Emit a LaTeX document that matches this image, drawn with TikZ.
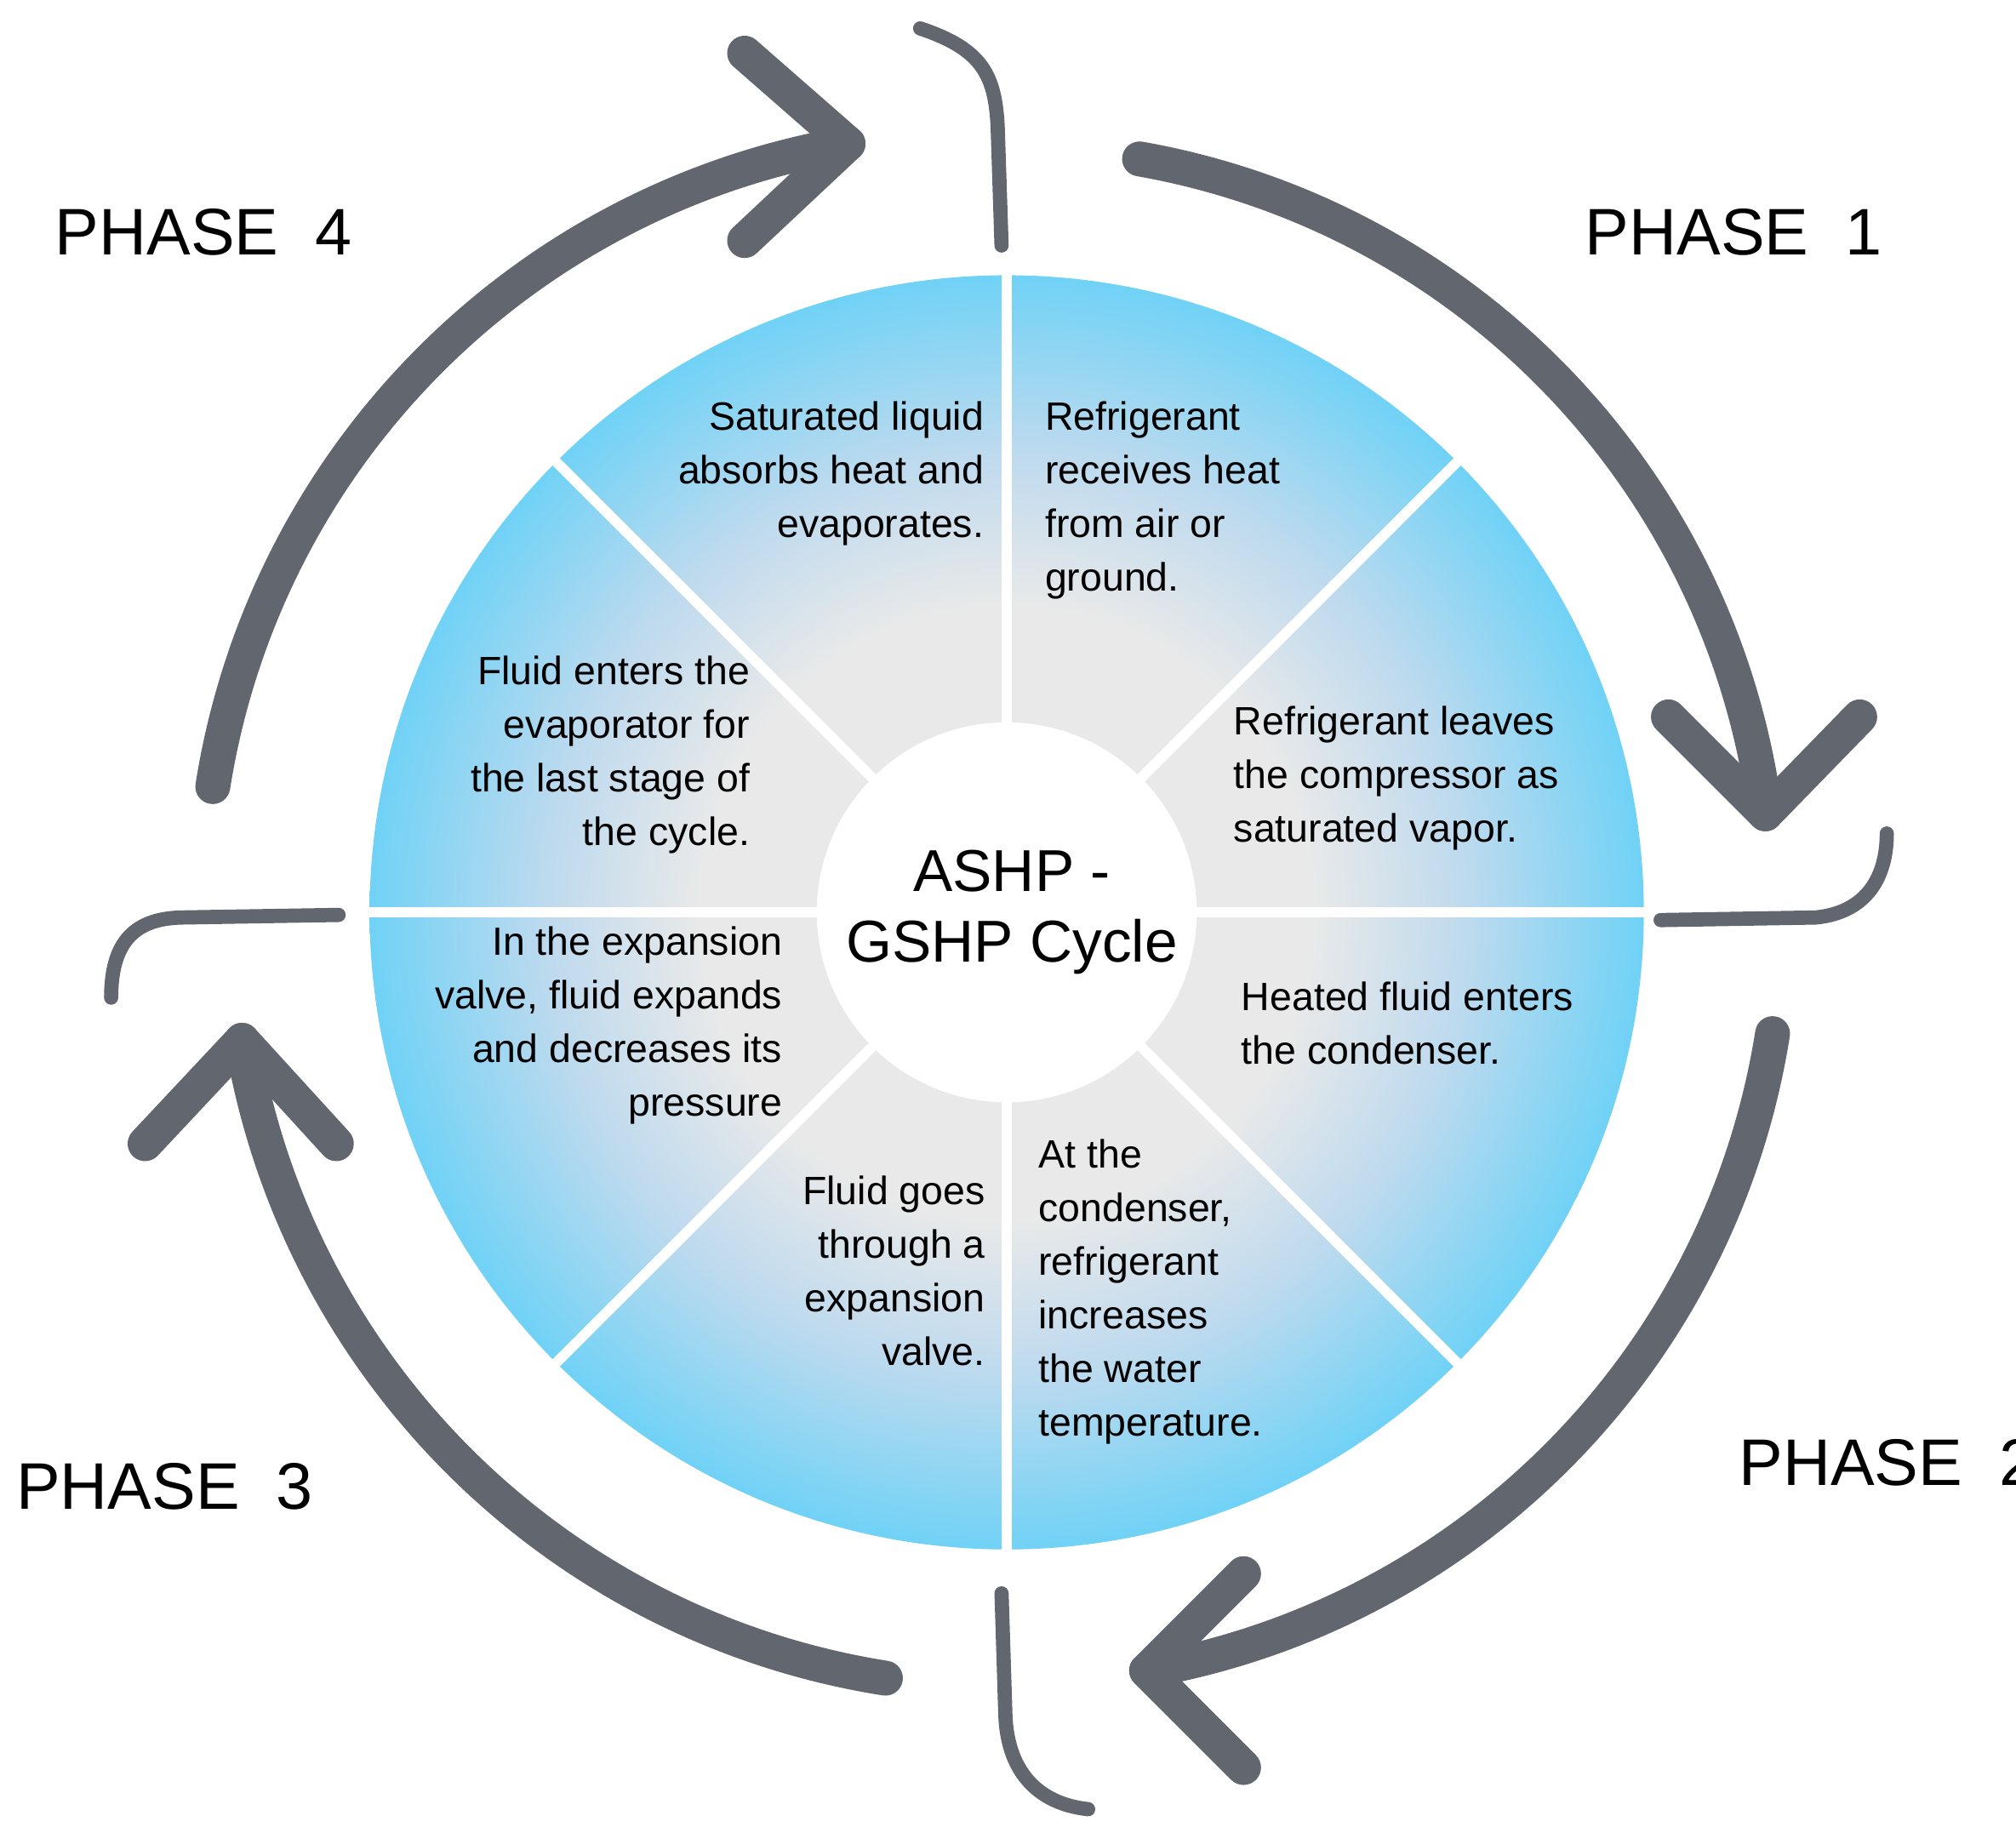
\documentclass[tikz,border=0pt]{standalone}
\usepackage{fontspec}
\setmainfont{Liberation Sans}
\usetikzlibrary{calc}
\definecolor{cgray}{RGB}{233,233,233}
\definecolor{cmid}{RGB}{190,218,238}
\definecolor{cblue}{RGB}{112,210,246}
\definecolor{arr}{RGB}{98,102,110}
\pgfdeclareradialshading{ring}{\pgfpoint{0bp}{0bp}}{color(0bp)=(cgray); color(8.5bp)=(cgray); color(12bp)=(cgray); color(18bp)=(cmid); color(25bp)=(cblue); color(50bp)=(cblue)}
\begin{document}
\begin{tikzpicture}[x=0.01cm,y=0.01cm,
  big/.style={arr,line width=0.27cm,line cap=round,line join=round},
  hook/.style={arr,line width=0.11cm,line cap=round},
  txt/.style={inner sep=0pt,font=\fontsize{8.7pt}{11.8pt}\selectfont},
  phase/.style={font=\fontsize{14.5pt}{18pt}\selectfont,inner sep=0pt}]
\useasboundingbox (0,0) rectangle (1560,1418);
\coordinate (c) at (779,712);
% disk
\shade[shading=ring] (c) circle[radius=493];
\foreach \a in {0,45,...,315}
  \draw[white,line width=0.08cm] ($(c)+(\a:140)$) -- ($(c)+(\a:500)$);
\fill[white] (c) circle[radius=147];
\node[align=center,font=\fontsize{13pt}{15.5pt}\selectfont] (ctr) at (783,712) {ASHP -\\GSHP Cycle};
% big arrows
\draw[big] ($(c)+(80:592)$) arc[start angle=80,end angle=7.4,radius=592] coordinate (t1);
\draw[big] ($(t1)+(-75,75)$) -- (t1) -- ($(t1)+(73,75)$);
\draw[big] ($(c)+(-9:600)$) arc[start angle=-9,end angle=-80,radius=595] coordinate (t2);
\draw[big] ($(t2)+(75,75)$) -- (t2) -- ($(t2)+(75,-75)$);
\draw[big] ($(c)+(-99:600)$) arc[start angle=-99,end angle=-170.5,radius=600] coordinate (t3);
\draw[big] ($(t3)+(-75,-80)$) -- (t3) -- ($(t3)+(73,-80)$);
\draw[big] ($(c)+(171:622)$) arc[start angle=171,end angle=99.7,radius=600] coordinate (t4);
\draw[big] ($(t4)+(-80,70)$) -- (t4) -- ($(t4)+(-80,-75)$);
% hooks
\draw[hook] (712,1396) .. controls (760,1380) and (770,1360) .. (772,1320) -- (775,1228);
\draw[hook] (1285,706) -- (1405,708) .. controls (1445,712) and (1460,740) .. (1460,773);
\draw[hook] (775,185) -- (778,90) .. controls (780,45) and (805,22) .. (842,18);
\draw[hook] (262,710) -- (140,708) .. controls (105,707) and (86,690) .. (86,646);
% phases
\node[phase,anchor=west] (p4) at (42,1238) {PHASE\ \ 4};
\node[phase,anchor=west] (p1) at (1226,1238) {PHASE\ \ 1};
\node[phase,anchor=west] (p2) at (1345,286) {PHASE\ \ 2};
\node[phase,anchor=west] (p3) at (12,268) {PHASE\ \ 3};
% texts
\node[txt,align=right,anchor=north east] (s1) at (762,1108) {Saturated liquid\\absorbs heat and\\evaporates.};
\node[txt,align=left,anchor=north west] (s2) at (808,1108) {Refrigerant\\receives heat\\from air or\\ground.};
\node[txt,align=left,anchor=north west] (s3) at (954,872) {Refrigerant leaves\\the compressor as\\saturated vapor.};
\node[txt,align=left,anchor=north west] (s4) at (960,659) {Heated fluid enters\\the condenser.};
\node[txt,align=left,anchor=north west] (s5) at (803,537) {At the\\condenser,\\refrigerant\\increases\\the water\\temperature.};
\node[txt,align=right,anchor=north east] (s6) at (763,509) {Fluid goes\\through a\\expansion\\valve.};
\node[txt,align=right,anchor=north east] (s7) at (606,702) {In the expansion\\valve, fluid expands\\and decreases its\\pressure};
\node[txt,align=right,anchor=north east] (s8) at (581,911) {Fluid enters the\\evaporator for\\the last stage of\\the cycle.};
\end{tikzpicture}
\end{document}
